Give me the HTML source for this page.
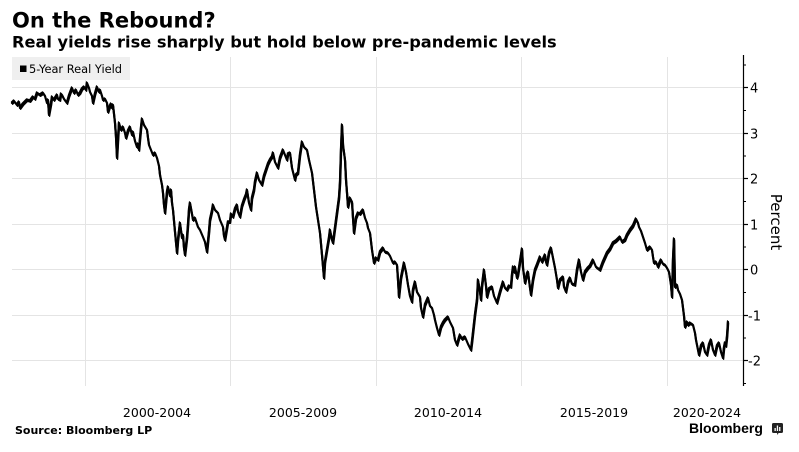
<!DOCTYPE html>
<html>
<head>
<meta charset="utf-8">
<style>
  html, body { margin:0; padding:0; background:#ffffff; }
  body { width:799px; height:452px; overflow:hidden; position:relative; }
  svg { position:absolute; left:0; top:0; }
  .t { font-family: "DejaVu Sans", "Liberation Sans", sans-serif; fill:#000; }
</style>
</head>
<body>
<svg width="799" height="452" viewBox="0 0 799 452" xmlns="http://www.w3.org/2000/svg">
  <defs>
    <polyline id="series" fill="none" stroke-linejoin="round" stroke-linecap="round"
    points="12,103 14,101 17,105 19,102 20,108 23,104 27,100 30,101 33,97 35,99 37,93 40,95 43,93 45,96 47,103 48,100 49,115 51,104 52,97 54,100 57,95 58,99 60,100 61,94 62,95 64,99 67,103 69,96 72,88 74,93 76,90 78,95 80,93 82,89 84,87 86,90 87,83 89,88 90,92 92,96 93,103 95,94 97,87 99,92 100,90 102,96 103,100 105,99 107,103 108,112 110,106 111,104 112,108 113,105 114,114 115,123 116,137 117,158 118,140 119,123 121,130 123,127 125,133 126,138 128,131 130,127 132,135 133,132 135,141 137,147 138,144 139,150 141,128 142,119 144,125 147,130 148,138 149,145 151,150 153,155 155,153 157,158 159,166 160,175 162,185 163,193 164,205 165,213 167,192 168,187 170,196 171,190 172,203 173,210 175,232 177,253 178,240 180,223 182,238 183,235 184,248 185,255 187,238 188,225 189,210 190,203 192,214 193,220 195,218 198,227 200,230 203,237 205,242 207,252 209,232 210,220 212,211 213,205 215,210 218,213 220,220 223,227 224,236 225,240 227,228 228,222 230,222 231,214 233,217 235,209 237,205 238,212 240,217 242,206 244,200 246,195 247,190 249,203 251,210 252,198 254,190 255,182 257,173 259,180 262,185 264,176 267,167 268,164 270,160 272,157 273,153 275,162 278,168 280,158 283,150 285,155 287,160 288,154 290,153 292,168 295,180 296,175 298,173 300,155 302,142 304,147 307,150 309,160 312,173 314,190 316,207 318,220 320,233 322,255 324,278 325,262 327,250 329,238 330,230 332,240 333,243 335,228 337,213 339,198 340,183 341,150 342,125 343,145 345,160 346,180 347,193 348,207 350,198 352,202 353,218 354,233 356,218 358,213 360,214 363,210 365,218 367,223 368,228 370,233 372,250 374,263 376,258 378,260 380,252 383,248 385,252 388,253 390,256 393,263 395,262 397,265 398,280 399,297 401,278 404,263 406,272 408,285 410,296 412,302 413,290 415,282 417,292 420,297 421,308 423,317 425,305 428,298 430,306 432,308 434,315 435,320 437,328 439,335 441,327 443,323 445,320 448,317 450,322 453,328 455,340 457,345 459,338 460,335 462,339 465,337 468,344 471,350 472,342 473,333 475,315 477,300 478,280 480,292 481,300 482,286 484,270 486,286 487,297 489,289 492,287 494,296 497,303 500,292 503,282 505,288 507,290 509,286 511,287 512,275 513,267 514,272 515,267 517,278 518,275 520,262 522,249 523,268 525,283 527,274 528,272 530,288 531,295 533,280 535,270 537,265 540,257 542,262 545,255 546,262 547,265 549,253 551,248 553,258 555,268 557,280 558,288 560,280 563,277 564,287 566,292 568,282 570,278 572,284 575,285 577,270 579,260 581,272 583,280 585,272 588,268 590,266 593,260 596,267 600,270 603,262 607,253 610,249 613,243 616,241 620,237 622,242 625,240 627,235 630,230 633,226 636,219 638,223 639,227 641,231 643,237 645,243 647,250 650,247 652,250 653,257 654,263 656,262 658,267 660,262 661,260 663,264 665,265 667,268 669,272 671,285 672,297 673,260 674,239 675,287 677,285 678,290 680,294 682,300 684,316 685,327 687,322 688,325 690,323 693,325 695,333 696,340 698,350 699,355 701,346 703,343 705,352 707,355 709,345 711,340 713,350 715,355 717,346 719,343 721,352 723,358 724,348 725,343 726,346 727,337 727.5,330 728,322"/>
  </defs>

  <!-- Titles -->
  <text class="t" x="12" y="27.5" font-size="21" font-weight="bold">On the Rebound?</text>
  <text class="t" x="12" y="47.5" font-size="16.2" font-weight="bold">Real yields rise sharply but hold below pre-pandemic levels</text>

  <!-- Gridlines -->
  <g stroke="#e4e4e4" stroke-width="1">
    <line x1="12" y1="87.5" x2="743" y2="87.5"/>
    <line x1="12" y1="133.5" x2="743" y2="133.5"/>
    <line x1="12" y1="178.5" x2="743" y2="178.5"/>
    <line x1="12" y1="224.5" x2="743" y2="224.5"/>
    <line x1="12" y1="269.5" x2="743" y2="269.5"/>
    <line x1="12" y1="315.5" x2="743" y2="315.5"/>
    <line x1="12" y1="360.5" x2="743" y2="360.5"/>
    <line x1="85.5" y1="57" x2="85.5" y2="386"/>
    <line x1="230.5" y1="57" x2="230.5" y2="386"/>
    <line x1="376.5" y1="57" x2="376.5" y2="386"/>
    <line x1="521.5" y1="57" x2="521.5" y2="386"/>
    <line x1="667.5" y1="57" x2="667.5" y2="386"/>
  </g>

  <!-- Legend -->
  <rect x="12" y="57" width="118" height="23" fill="#efefef"/>
  <rect x="20" y="65.5" width="6.5" height="6.5" fill="#000"/>
  <text class="t" x="29" y="73" font-size="11.4">5-Year Real Yield</text>

  <!-- Right axis -->
  <line x1="743.5" y1="55" x2="743.5" y2="386" stroke="#000" stroke-width="1.2"/>
  <g stroke="#000" stroke-width="1.2">
    <line x1="743" y1="87.5" x2="748" y2="87.5"/>
    <line x1="743" y1="133.5" x2="748" y2="133.5"/>
    <line x1="743" y1="178.5" x2="748" y2="178.5"/>
    <line x1="743" y1="224.5" x2="748" y2="224.5"/>
    <line x1="743" y1="269.5" x2="748" y2="269.5"/>
    <line x1="743" y1="315.5" x2="748" y2="315.5"/>
    <line x1="743" y1="360.5" x2="748" y2="360.5"/>
  </g>
  <g stroke="#000" stroke-width="1">
    <line x1="743" y1="65" x2="746" y2="65"/>
    <line x1="743" y1="110.5" x2="746" y2="110.5"/>
    <line x1="743" y1="156" x2="746" y2="156"/>
    <line x1="743" y1="201.5" x2="746" y2="201.5"/>
    <line x1="743" y1="247" x2="746" y2="247"/>
    <line x1="743" y1="292.5" x2="746" y2="292.5"/>
    <line x1="743" y1="338" x2="746" y2="338"/>
    <line x1="743" y1="383.5" x2="746" y2="383.5"/>
  </g>
  <g class="t" font-size="13">
    <text x="750" y="92.5">4</text>
    <text x="750" y="138.5">3</text>
    <text x="750" y="183.5">2</text>
    <text x="750" y="229.5">1</text>
    <text x="750" y="274.5">0</text>
    <text x="748" y="320.5">-1</text>
    <text x="748" y="365.5">-2</text>
  </g>
  <text class="t" font-size="15" transform="translate(771,222) rotate(90)" text-anchor="middle">Percent</text>

  <!-- X labels -->
  <g class="t" font-size="12.5" text-anchor="middle">
    <text x="157" y="417">2000-2004</text>
    <text x="303" y="417">2005-2009</text>
    <text x="448" y="417">2010-2014</text>
    <text x="594" y="417">2015-2019</text>
    <text x="707" y="417">2020-2024</text>
  </g>

  <!-- Footer -->
  <text class="t" x="15" y="434" font-size="11" font-weight="bold">Source: Bloomberg LP</text>
  <text x="689" y="433" font-family="'Liberation Sans', sans-serif" font-size="14" font-weight="bold" fill="#000">Bloomberg</text>
  <rect x="772" y="423" width="11" height="10" rx="1.5" fill="#222"/>
  <path d="M777 433 L777.5 435 L778.5 433 Z" fill="#222"/>
  <g fill="#fff">
    <rect x="774.5" y="428" width="1.3" height="3"/>
    <rect x="776.8" y="425.5" width="1.3" height="5.5"/>
    <rect x="779.1" y="427" width="1.3" height="4"/>
  </g>

  <!-- Series (layered for the thick, noisy look) -->
  <use href="#series" stroke="#000" stroke-width="2.2"/>
  <use href="#series" stroke="#000" stroke-width="1.3" transform="translate(0.6,1.3)"/>
  <use href="#series" stroke="#000" stroke-width="1.3" transform="translate(-0.5,-1.1)"/>
</svg>
</body>
</html>
